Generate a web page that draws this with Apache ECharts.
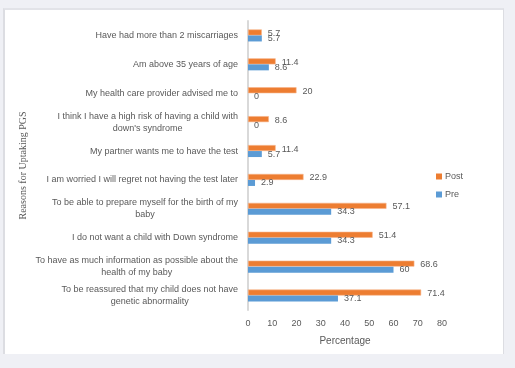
<!DOCTYPE html>
<html><head><meta charset="utf-8">
<script src="https://cdn.jsdelivr.net/npm/echarts@6/dist/echarts.min.js"></script>
<style>
html,body{margin:0;padding:0;background:#eff0f5;width:515px;height:368px;overflow:hidden;}
#panel{position:absolute;left:3px;top:8px;width:498px;height:344px;background:#fff;border-left:2px solid #dcdde2;border-top:2px solid #e2e3e8;border-right:1px solid #dcdde2;}
#chart{position:absolute;left:0;top:0;width:515px;height:368px;}
</style></head>
<body><div id="panel"></div><div id="chart"></div>
<script>
const categories = [
  "Have had more than 2 miscarriages",
  "Am above 35 years of age",
  "My health care provider advised me to",
  "I think I have a high risk of having a child with\ndown's syndrome",
  "My partner wants me to have the test",
  "I am worried I will regret not having the test later",
  "To be able to prepare myself for the birth of my\nbaby",
  "I do not want a child with Down syndrome",
  "To have as much information as possible about the\nhealth of my baby",
  "To be reassured that my child does not have\ngenetic abnormality"
];
const postValues = [5.7, 11.4, 20, 8.6, 11.4, 22.9, 57.1, 51.4, 68.6, 71.4];
const preValues = [5.7, 8.6, 0, 0, 5.7, 2.9, 34.3, 34.3, 60, 37.1];
const seriesNames = ["Post", "Pre"];

const font = "'Liberation Sans', 'Open Sans', sans-serif";
const txt = '#595959';
const chart = echarts.init(document.getElementById('chart'));
chart.setOption({
  backgroundColor: 'transparent',
  textStyle: {fontFamily: font},
  grid: {left: 248, right: 73, top: 21, bottom: 58},
  legend: {
    orient: 'vertical', left: 431, top: 167, itemGap: 9,
    itemWidth: 6, itemHeight: 6, icon: 'rect',
    itemStyle: {borderWidth: 0},
    textStyle: {fontSize: 9, color: txt, fontFamily: font, padding: [0,0,0,-2]},
    data: seriesNames
  },
  xAxis: {
    type: 'value', min: 0, max: 80, interval: 10,
    axisLine: {show: false}, axisTick: {show: false}, splitLine: {show: false},
    axisLabel: {fontSize: 9, color: txt, margin: 9},
    name: 'Percentage', nameLocation: 'middle', nameGap: 26,
    nameTextStyle: {fontSize: 10, color: txt}
  },
  yAxis: {
    type: 'category', inverse: true, data: categories,
    axisLine: {show: true, lineStyle: {color: '#d9d9d9', width: 2}},
    axisTick: {show: false},
    axisLabel: {
      margin: 10, align: 'right',
      formatter: v => v.split('\n').map(s => '{c|' + s + '}').join('\n'),
      rich: {c: {align: 'center', fontSize: 9, color: txt, lineHeight: 12, fontFamily: font}}
    },
    name: 'Reasons for Uptaking PGS', nameLocation: 'middle', nameGap: 220, nameRotate: 90,
    nameTextStyle: {fontSize: 10, color: txt, fontFamily: "'Liberation Serif', serif"}
  },
  series: [
    {name: seriesNames[0], type: 'bar', data: postValues, barWidth: 6, barGap: '0%',
     itemStyle: {color: '#ED7D31', borderColor: '#f6b48a', borderWidth: 0.6},
     label: {show: true, position: 'right', distance: 6, fontSize: 9, color: txt, offset: [0, 1]}},
    {name: seriesNames[1], type: 'bar', data: preValues, barWidth: 6,
     itemStyle: {color: '#5B9BD5'},
     label: {show: true, position: 'right', distance: 6, fontSize: 9, color: txt, offset: [0, 0]}}
  ]
});
</script></body></html>
